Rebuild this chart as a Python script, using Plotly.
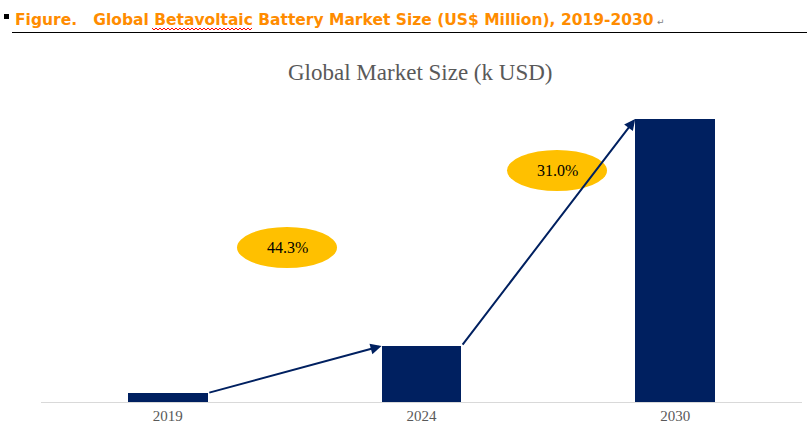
import plotly.graph_objects as go

# ---- data ----
years = ["2019", "2024", "2030"]
market_size = [1.6, 10.0, 50.6]          # k USD (estimated)
cagr_labels = ["44.3%", "31.0%"]
chart_title = "Global Market Size (k USD)"
header = "Figure.   Global Betavoltaic Battery Market Size (US$ Million), 2019-2030"

# ---- layout geometry ----
WIDTH, HEIGHT = 807, 432
ML, MR, MT, MB = 41, 5, 100, 30
PW = WIDTH - ML - MR
PH = HEIGHT - MT - MB
BAR_W = 0.315
NAVY = "#002060"
GOLD = "#FFC000"

def px(x):
    return (x - ML) / PW

def py(y):
    return (HEIGHT - MB - y) / PH

xs = list(range(len(years)))

fig = go.Figure()
fig.add_trace(go.Bar(x=xs, y=market_size, width=BAR_W, marker_color=NAVY,
                     marker_line_width=0, hoverinfo="skip"))

ymax = market_size[-1] * PH / 283.0

annotations = []
shapes = []

# arrows between bar tops
for i in range(len(xs) - 1):
    annotations.append(dict(
        x=xs[i + 1] - BAR_W / 2, y=market_size[i + 1],
        ax=xs[i] + BAR_W / 2, ay=market_size[i],
        xref="x", yref="y", axref="x", ayref="y",
        showarrow=True, arrowhead=2, arrowsize=1.1, arrowwidth=2,
        arrowcolor=NAVY, standoff=0, startstandoff=0, text=""))

# CAGR ellipses
ellipses = [(237, 227, 337, 268), (507, 150, 607, 191)]
for (x0, y0, x1, y1), lab in zip(ellipses, cagr_labels):
    shapes.append(dict(type="circle", xref="paper", yref="paper",
                       x0=px(x0), x1=px(x1), y0=py(y1), y1=py(y0),
                       fillcolor=GOLD, line=dict(width=0), layer="above"))
    annotations.append(dict(x=px((x0 + x1) / 2), y=py((y0 + y1) / 2),
                            xref="paper", yref="paper", text=lab, showarrow=False,
                            xanchor="center", yanchor="middle",
                            font=dict(family="Liberation Serif", size=16, color="#000000")))

# chart title
annotations.append(dict(x=px(420), y=py(72), xref="paper", yref="paper",
                        text=chart_title, showarrow=False, xanchor="center", yanchor="middle",
                        font=dict(family="Liberation Serif", size=23, color="#595959")))

# header
annotations.append(dict(x=px(13), y=py(20), xref="paper", yref="paper",
                        text="<b>" + header + "</b>", showarrow=False,
                        xanchor="left", yanchor="middle",
                        font=dict(family="DejaVu Sans", size=15.5, color="#FF8C00")))
annotations.append(dict(x=px(655), y=py(22), xref="paper", yref="paper",
                        text="↵", showarrow=False, xanchor="left", yanchor="middle",
                        font=dict(family="DejaVu Sans", size=9, color="#808080")))

# header rule and bullet square
shapes.append(dict(type="line", xref="paper", yref="paper",
                   x0=px(12), x1=px(807), y0=py(32.5), y1=py(32.5),
                   line=dict(color="#000000", width=1)))
shapes.append(dict(type="rect", xref="paper", yref="paper",
                   x0=px(4), x1=px(9), y0=py(19), y1=py(14),
                   fillcolor="#000000", line=dict(width=0)))

# red wavy spell-check underline
pts = []
xw = 152.0
k = 0
while xw <= 252:
    pts.append((xw, 28 if k % 2 == 0 else 30))
    xw += 2
    k += 1
path = "M " + " L ".join(f"{px(a):.5f},{py(b):.5f}" for a, b in pts)
shapes.append(dict(type="path", xref="paper", yref="paper", path=path,
                   line=dict(color="#FF0000", width=1)))

fig.update_layout(
    width=WIDTH, height=HEIGHT,
    margin=dict(l=ML, r=MR, t=MT, b=MB),
    paper_bgcolor="white", plot_bgcolor="white",
    showlegend=False,
    bargap=0,
    xaxis=dict(range=[-0.5, len(years) - 0.5], tickvals=xs, ticktext=years,
               showgrid=False, zeroline=False, showline=True, linecolor="#D9D9D9",
               linewidth=1, ticks="", ticklen=0,
               tickfont=dict(family="Liberation Serif", size=15, color="#595959"),
               fixedrange=True),
    yaxis=dict(range=[0, ymax], visible=False, showgrid=False, zeroline=False,
               fixedrange=True),
    annotations=annotations,
    shapes=shapes,
)

fig.write_html("out.html", config={"displayModeBar": False})
